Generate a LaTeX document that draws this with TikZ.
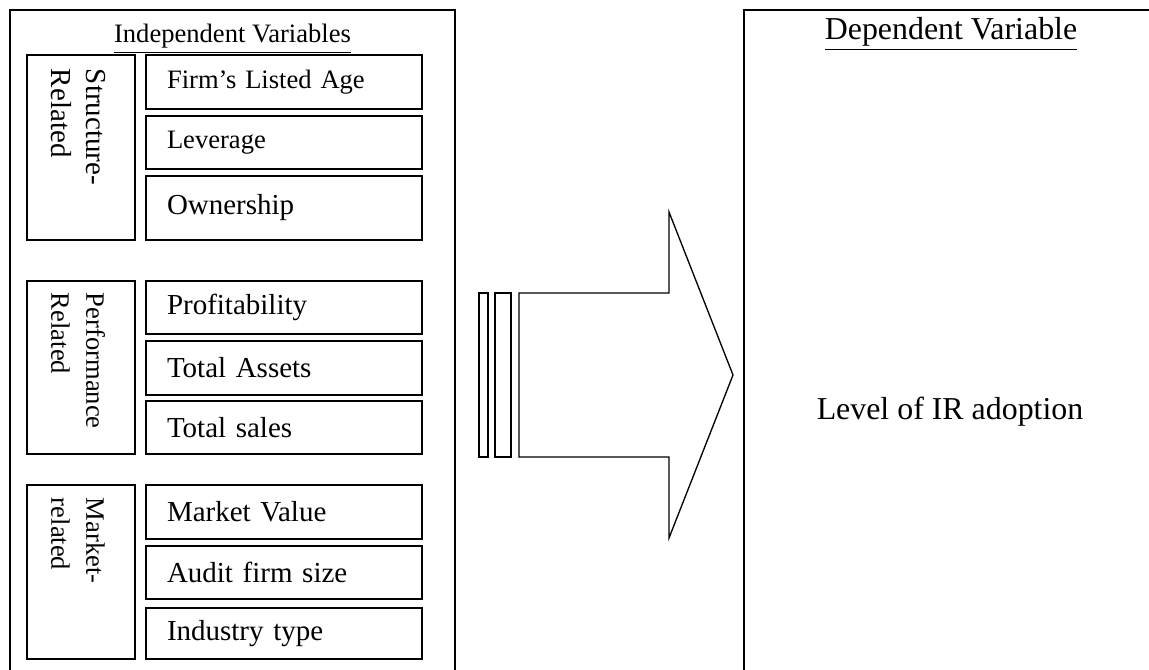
\documentclass[tikz,border=0pt]{standalone}
\usepackage{fontspec}
\setmainfont{Liberation Serif}
\usetikzlibrary{positioning,calc}
\newcommand{\pxu}{0.414pt}

\begin{document}
\begin{tikzpicture}[x=0.414pt,y=-0.414pt,
		outerbox/.style={line width=0.9pt},
		grpbox/.style={draw,line width=0.75pt,minimum width=108*\pxu,inner sep=0pt},
		grptext/.style={rotate=-90,anchor=west,align=left,inner sep=1pt},
		itembox/.style={draw,line width=0.75pt,text width=234*\pxu,inner xsep=21*\pxu,inner ysep=0pt,align=left,font=\fontsize{12}{14}\selectfont},
		arrowline/.style={line width=0.55pt,line join=miter}
		]
		\useasboundingbox (0,0) rectangle (1149,670);
		\clip (0,0) rectangle (1149,670);
		% outer frames, both run past the page edge
		\draw[outerbox] (10,700) -- (10,10) -- (455,10) -- (455,700);
		\draw[outerbox] (744,700) -- (744,10) -- (1170,10);
		\node[font=\fontsize{11}{13}\selectfont] (indep) at (232.5,39) {\underline{Independent Variables}};
		\node[font=\fontsize{13.2}{15}\selectfont] (dep) at (951,34) {\underline{Dependent Variable}};
		\node[font=\fontsize{13.2}{15}\selectfont] (irlevel) at (950,412) {Level of IR adoption};
		% groups
		\node[grpbox,minimum height=185*\pxu] (sGrp) at (81,147.5) {};
		\node[grpbox,minimum height=173*\pxu] (pGrp) at (81,367.5) {};
		\node[grpbox,minimum height=174*\pxu] (mGrp) at (81,572) {};
		\node[grptext,font=\fontsize{12}{14.5}\selectfont] (sLbl) at ([xshift=-3*\pxu,yshift=-12*\pxu]sGrp.north) {Structure-\\Related};
		\node[grptext,font=\fontsize{11}{14.5}\selectfont] (pLbl) at ([xshift=-3*\pxu,yshift=-10*\pxu]pGrp.north) {Performance\\Related};
		\node[grptext,font=\fontsize{11}{14.5}\selectfont] (mLbl) at ([xshift=-3*\pxu,yshift=-11*\pxu]mGrp.north) {Market-\\related};
		% variables
		\node[itembox,minimum height=54*\pxu,font=\fontsize{11}{13}\selectfont] (age) at (284,82) {Firm’s Listed Age};
		\node[itembox,minimum height=53*\pxu,font=\fontsize{11}{13}\selectfont] (lev) at (284,142.5) {Leverage};
		\node[itembox,minimum height=64*\pxu] (own) at (284,208) {Ownership};
		\node[itembox,minimum height=53*\pxu] (prof) at (284,307.5) {Profitability};
		\node[itembox,minimum height=54*\pxu] (assets) at (284,368) {Total Assets};
		\node[itembox,minimum height=53*\pxu] (sales) at (284,427.5) {Total sales};
		\node[itembox,minimum height=54*\pxu] (mval) at (284,512) {Market Value};
		\node[itembox,minimum height=53*\pxu] (audit) at (284,572.5) {Audit firm size};
		\node[itembox,minimum height=51*\pxu] (ind) at (284,633.5) {Industry type};
		% striped arrow
		\draw[arrowline] (479,293) rectangle (488,457);
		\draw[arrowline] (495,293) rectangle (511,457);
		\draw[arrowline] (519,293) -- (669,293) -- (669,212) -- (733,375) -- (669,538) -- (669,457) -- (519,457) -- cycle;
\end{tikzpicture}
\end{document}
